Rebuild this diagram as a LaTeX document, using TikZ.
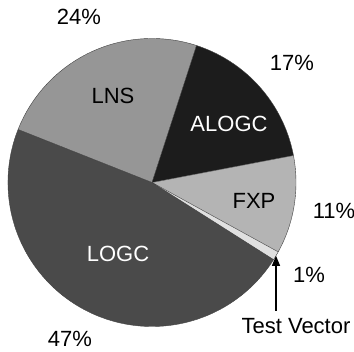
\documentclass[tikz,border=0pt]{standalone}
\usepackage{fontspec}
\setmainfont{Liberation Sans}
\usetikzlibrary{arrows.meta,calc}
\definecolor{clns}{HTML}{969696}
\definecolor{calogc}{HTML}{1C1C1C}
\definecolor{cfxp}{HTML}{B4B4B4}
\definecolor{ctv}{HTML}{E0E0E0}
\definecolor{clogc}{HTML}{4A4A4A}
\tikzset{
  slice/.style={draw=black!75, line width=0.4pt, line join=round},
  lbl/.style={font=\fontsize{22}{25}\selectfont, inner sep=0pt},
  pct/.style={font=\fontsize{22}{25}\selectfont, inner sep=0pt, text=black},
}
\begin{document}
\begin{tikzpicture}[x=1pt,y=1pt]
\useasboundingbox (0,0) rectangle (354,352);
\coordinate (c) at (152,169.5);
\def\R{144}
% slices
\fill[clns]   (c) -- ++(72:\R) arc[start angle=72, end angle=158.4, radius=\R] -- cycle;
\fill[calogc] (c) -- ++(10.8:\R) arc[start angle=10.8, end angle=72, radius=\R] -- cycle;
\fill[cfxp]   (c) -- ++(-28.8:\R) arc[start angle=-28.8, end angle=10.8, radius=\R] -- cycle;
\fill[ctv]    (c) -- ++(-32.4:\R) arc[start angle=-32.4, end angle=-28.8, radius=\R] -- cycle;
\fill[clogc]  (c) -- ++(158.4:\R) arc[start angle=158.4, end angle=327.6, radius=\R] -- cycle;
% edges
\draw[slice] (c) -- ++(72:\R);
\draw[slice] (c) -- ++(10.8:\R);
\draw[slice] (c) -- ++(-28.8:\R);
\draw[slice] (c) -- ++(-32.4:\R);
\draw[slice] (c) -- ++(158.4:\R);
\draw[slice] (c) circle[radius=\R];
% slice labels
\node[lbl, text=black] (lns)   at (113,256) {LNS};
\node[lbl, text=white] (alogc) at (229,228) {ALOGC};
\node[lbl, text=black] (fxp)   at (254,151) {FXP};
\node[lbl, text=white] (logc)  at (118,98)  {LOGC};
% percentages
\node[pct] (p24) at (79,335) {24\%};
\node[pct] (p17) at (292,289) {17\%};
\node[pct] (p11) at (334,141) {11\%};
\node[pct] (p1)  at (309,77)  {1\%};
\node[pct] (p47) at (70,13)   {47\%};
\node[pct] (tvlabel) at (296,26) {Test Vector};
% arrow
\coordinate (tvtip) at ($(c)+(-30.6:\R)$);
\coordinate (tvtail) at (276,41);
\draw[line width=1.3pt, -{Triangle[length=10pt,width=8pt]}] (tvtail) -- (tvtail |- tvtip);
\end{tikzpicture}
\end{document}
